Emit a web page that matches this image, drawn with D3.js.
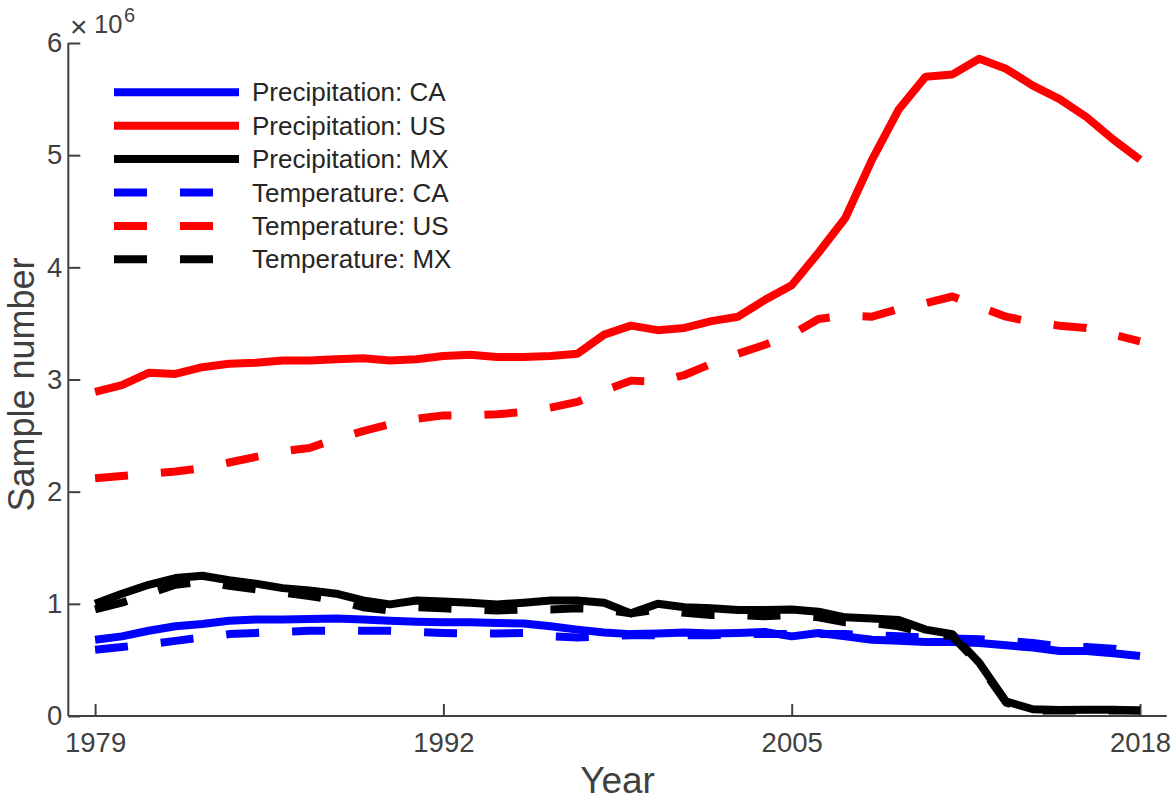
<!DOCTYPE html>
<html>
<head>
<meta charset="utf-8">
<script src="https://cdn.jsdelivr.net/npm/d3@7"></script>
<style>
  html, body { margin: 0; padding: 0; background: #fff; }
  svg { display: block; font-family: "Liberation Sans", Arial, Helvetica, sans-serif; }
</style>
</head>
<body>
<svg id="chart" width="1176" height="801"></svg>
<script>
// ---- data (values in millions of samples) ----
const years = [1979,1980,1981,1982,1983,1984,1985,1986,1987,1988,
               1989,1990,1991,1992,1993,1994,1995,1996,1997,1998,
               1999,2000,2001,2002,2003,2004,2005,2006,2007,2008,
               2009,2010,2011,2012,2013,2014,2015,2016,2017,2018];

const precipCA = [0.68,0.71,0.76,0.80,0.82,0.85,0.86,0.86,0.865,0.87,
                  0.86,0.85,0.84,0.835,0.835,0.83,0.825,0.80,0.77,0.745,
                  0.73,0.735,0.745,0.735,0.74,0.75,0.71,0.74,0.71,0.68,
                  0.67,0.66,0.66,0.65,0.63,0.61,0.58,0.58,0.56,0.535];

const precipUS = [2.89,2.95,3.06,3.05,3.11,3.14,3.15,3.17,3.17,3.18,
                  3.19,3.17,3.18,3.21,3.22,3.20,3.20,3.21,3.23,3.40,
                  3.48,3.44,3.46,3.52,3.56,3.71,3.84,4.13,4.44,4.96,
                  5.41,5.70,5.72,5.86,5.77,5.62,5.50,5.34,5.14,4.96];

const precipMX = [1.00,1.09,1.17,1.23,1.25,1.21,1.18,1.14,1.12,1.09,
                  1.03,0.995,1.03,1.02,1.01,0.995,1.01,1.03,1.03,1.01,
                  0.915,1.00,0.97,0.96,0.945,0.945,0.95,0.93,0.88,0.87,
                  0.855,0.77,0.73,0.475,0.13,0.06,0.053,0.055,0.055,0.05];

const tempCA = [0.59,0.615,0.64,0.67,0.70,0.73,0.74,0.75,0.76,0.76,
                0.76,0.76,0.75,0.74,0.735,0.735,0.74,0.71,0.70,0.71,
                0.72,0.72,0.72,0.72,0.73,0.73,0.73,0.73,0.73,0.72,
                0.71,0.70,0.69,0.685,0.67,0.65,0.62,0.615,0.60,0.57];

const tempUS = [2.12,2.14,2.16,2.18,2.21,2.26,2.31,2.36,2.39,2.47,
                2.54,2.60,2.65,2.68,2.68,2.69,2.71,2.75,2.80,2.90,
                2.99,2.98,3.04,3.14,3.23,3.31,3.40,3.54,3.57,3.56,
                3.63,3.68,3.74,3.65,3.56,3.51,3.48,3.46,3.40,3.34];

const tempMX = [0.95,1.01,1.09,1.17,1.20,1.16,1.13,1.10,1.07,1.03,
                0.97,0.94,0.97,0.96,0.95,0.94,0.95,0.95,0.96,0.95,
                0.915,0.95,0.92,0.90,0.90,0.89,0.90,0.88,0.835,0.83,
                0.80,0.74,0.71,0.46,0.12,0.05,0.05,0.05,0.05,0.05];

const seriesNames = ["Precipitation: CA","Precipitation: US","Precipitation: MX",
                     "Temperature: CA","Temperature: US","Temperature: MX"];
const seriesValues = [precipCA, precipUS, precipMX, tempCA, tempUS, tempMX];
const seriesColors = ["#0000ff","#ff0000","#000000","#0000ff","#ff0000","#000000"];
const seriesDashed = [false,false,false,true,true,true];

const xTicks = [1979, 1992, 2005, 2018];
const yTicks = [0, 1, 2, 3, 4, 5, 6];

// ---- layout ----
const svg = d3.select("#chart");
const L = 68.3, R = 1166.8, T = 43, B = 716;
const axisColor = "#404040";

const x = d3.scaleLinear().domain([1978, 2019]).range([L, R]);
const y = d3.scaleLinear().domain([0, 6]).range([B, T]);

// x axis
const gx = svg.append("g").attr("transform", `translate(0,${B})`)
  .call(d3.axisBottom(x).tickValues(xTicks).tickFormat(d3.format("d"))
        .tickSizeInner(-12).tickSizeOuter(0).tickPadding(16));
gx.select(".domain").remove();
gx.selectAll(".tick line").attr("stroke", axisColor).attr("stroke-width", 2);
gx.selectAll(".tick text").attr("fill", axisColor).attr("font-size", 27.5)
  .attr("font-family", "Liberation Sans, Arial, sans-serif");
svg.append("line").attr("x1", L).attr("x2", R).attr("y1", B).attr("y2", B)
  .attr("stroke", axisColor).attr("stroke-width", 2);

// y axis
const gy = svg.append("g").attr("transform", `translate(${L},0)`)
  .call(d3.axisLeft(y).tickValues(yTicks).tickFormat(d3.format("d"))
        .tickSizeInner(-12).tickSizeOuter(0).tickPadding(6));
gy.select(".domain").remove();
gy.selectAll(".tick line").attr("stroke", axisColor).attr("stroke-width", 2);
gy.selectAll(".tick text").attr("fill", axisColor).attr("font-size", 27.5)
  .attr("font-family", "Liberation Sans, Arial, sans-serif");
svg.append("line").attr("x1", L).attr("x2", L).attr("y1", T).attr("y2", B)
  .attr("stroke", axisColor).attr("stroke-width", 2);

// exponent label
svg.append("text").attr("x", 70).attr("y", 37).attr("font-size", 30)
  .attr("fill", axisColor).text("×");
svg.append("text").attr("x", 94).attr("y", 33).attr("font-size", 25.5)
  .attr("fill", axisColor).text("10");
svg.append("text").attr("x", 124).attr("y", 22).attr("font-size", 20)
  .attr("fill", axisColor).text("6");

// axis titles
svg.append("text").attr("x", (L + R) / 2).attr("y", 793)
  .attr("text-anchor", "middle").attr("font-size", 37).attr("fill", axisColor)
  .text("Year");
svg.append("text").attr("transform", `translate(34,${(T + B) / 2 + 5}) rotate(-90)`)
  .attr("text-anchor", "middle").attr("font-size", 36).attr("fill", axisColor)
  .text("Sample number");

// lines
const line = d3.line().x((d, i) => x(years[i])).y(d => y(d));
seriesValues.forEach((vals, k) => {
  svg.append("path").datum(vals)
    .attr("d", line)
    .attr("fill", "none")
    .attr("stroke", seriesColors[k])
    .attr("stroke-width", 8)
    .attr("stroke-linejoin", "round")
    .attr("stroke-linecap", "butt")
    .attr("stroke-dasharray", seriesDashed[k] ? "33,33" : null);
});

// legend
const legY0 = 92.3, legDy = 33.4;
seriesNames.forEach((name, k) => {
  const yy = legY0 + k * legDy;
  svg.append("line").attr("x1", 114).attr("x2", 239).attr("y1", yy).attr("y2", yy)
    .attr("stroke", seriesColors[k]).attr("stroke-width", 8)
    .attr("stroke-dasharray", seriesDashed[k] ? "33,33" : null);
  svg.append("text").attr("x", 252).attr("y", yy).attr("dy", "0.35em")
    .attr("font-size", 26).attr("fill", "#262626").text(name);
});
</script>
</body>
</html>
